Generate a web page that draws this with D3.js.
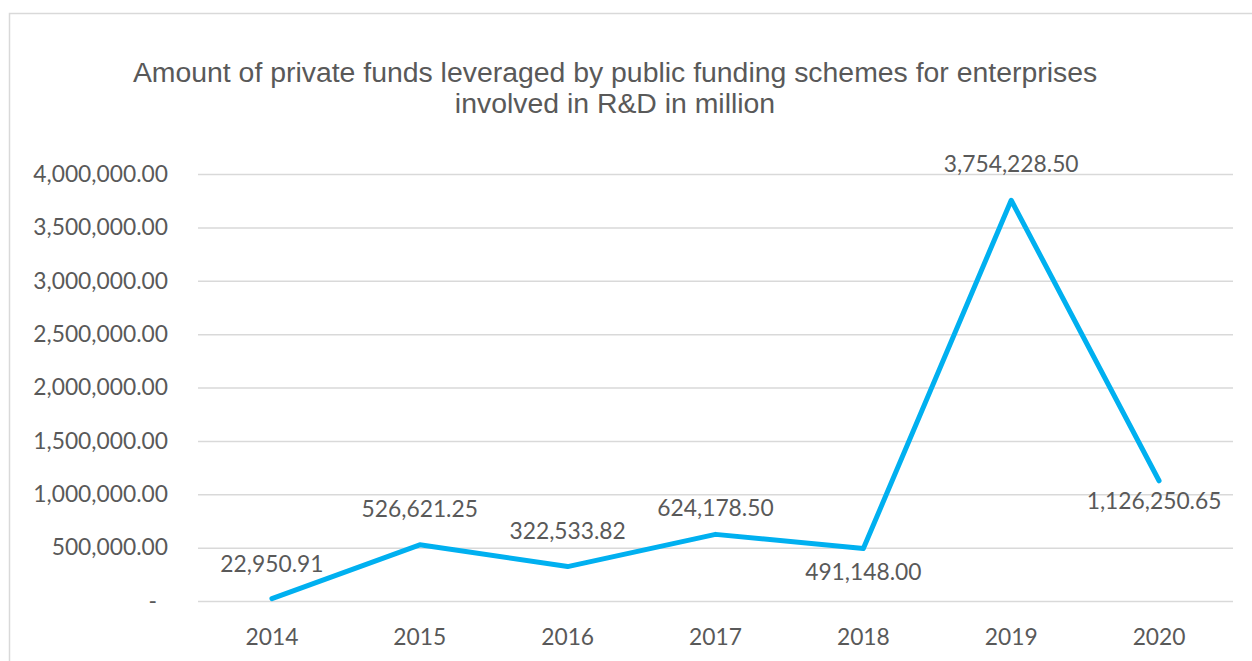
<!DOCTYPE html>
<html>
<head>
<meta charset="utf-8">
<script src="https://cdn.jsdelivr.net/npm/d3@7"></script>
<style>
  html, body { margin: 0; padding: 0; background: #fff; }
  svg { display: block; }
</style>
</head>
<body>
<svg id="chart" width="1252" height="661"></svg>
<script>
// Private funds leveraged by public funding schemes (R&D enterprises), in million
const years = ["2014", "2015", "2016", "2017", "2018", "2019", "2020"];
const amounts = [22950.91, 526621.25, 322533.82, 624178.50, 491148.00, 3754228.50, 1126250.65];
// label placement relative to the point: above or below
const labelSide = ["above", "above", "above", "above", "below", "above", "below"];
const yTicks = [0, 500000, 1000000, 1500000, 2000000, 2500000, 3000000, 3500000, 4000000];
const titleLines = [
  "Amount of private funds leveraged by public funding schemes for enterprises",
  "involved in R&D in million"
];

// small manual nudges for individual data labels [dx, dy]
const labelNudge = [[0, 1], [0, 0], [0, 0], [0, 10], [0, 1], [0, 0], [-5, -2]];

const svg = d3.select("#chart");
const W = 1252, H = 661;
const plot = { left: 198, right: 1233, top: 174, bottom: 601 };
const textColor = "#595959";
const gridColor = "#d9d9d9";
const lineColor = "#00b0f0";
const numFont = "Lato, 'Open Sans', sans-serif";
const numSize = 22.8;

// chart area outline (runs past the right and bottom edges)
svg.append("rect")
  .attr("x", 9.5).attr("y", 13.5)
  .attr("width", W + 20).attr("height", H + 20)
  .attr("fill", "none")
  .attr("stroke", gridColor)
  .attr("stroke-width", 1.5);

// title
svg.append("g").selectAll("text")
  .data(titleLines)
  .join("text")
  .attr("x", 615)
  .attr("y", (d, i) => 82 + i * 31)
  .attr("text-anchor", "middle")
  .attr("fill", textColor)
  .attr("font-family", "'Liberation Sans', Arial, sans-serif")
  .attr("font-size", 28.4)
  .text(d => d);

const x = d3.scaleBand().domain(years).range([plot.left, plot.right]);
const y = d3.scaleLinear().domain([0, 4000000]).range([plot.bottom, plot.top]);

const fmt2 = d3.format(",.2f");

// y axis: gridlines + labels
const yAxis = d3.axisLeft(y)
  .tickValues(yTicks)
  .tickSize(-(plot.right - plot.left))
  .tickPadding(30)
  .tickFormat(d => d === 0 ? "-" : fmt2(d));

const gy = svg.append("g")
  .attr("transform", `translate(${plot.left},0)`)
  .call(yAxis);
gy.select(".domain").remove();
gy.selectAll(".tick line")
  .attr("stroke", gridColor)
  .attr("stroke-width", 1.5);
gy.selectAll(".tick text")
  .attr("fill", textColor)
  .attr("font-family", numFont)
  .attr("font-size", numSize)
  .attr("dx", d => d === 0 ? -11 : 0);

// x axis labels
const xAxis = d3.axisBottom(x).tickSize(0).tickPadding(28);
const gx = svg.append("g")
  .attr("transform", `translate(0,${plot.bottom})`)
  .call(xAxis);
gx.select(".domain").remove();
gx.selectAll(".tick text")
  .attr("fill", textColor)
  .attr("font-family", numFont)
  .attr("font-size", numSize);

// series line
const cx = d => x(d) + x.bandwidth() / 2;
const line = d3.line()
  .x((d, i) => cx(years[i]))
  .y(d => y(d));

svg.append("path")
  .datum(amounts)
  .attr("d", line)
  .attr("fill", "none")
  .attr("stroke", lineColor)
  .attr("stroke-width", 5)
  .attr("stroke-linejoin", "round")
  .attr("stroke-linecap", "round");

// data labels
svg.append("g").selectAll("text")
  .data(amounts)
  .join("text")
  .attr("x", (d, i) => cx(years[i]) + labelNudge[i][0])
  .attr("y", (d, i) => y(d) + (labelSide[i] === "above" ? -28 : 30) + labelNudge[i][1])
  .attr("text-anchor", "middle")
  .attr("fill", textColor)
  .attr("font-family", numFont)
  .attr("font-size", numSize)
  .text(d => fmt2(d));
</script>
</body>
</html>
